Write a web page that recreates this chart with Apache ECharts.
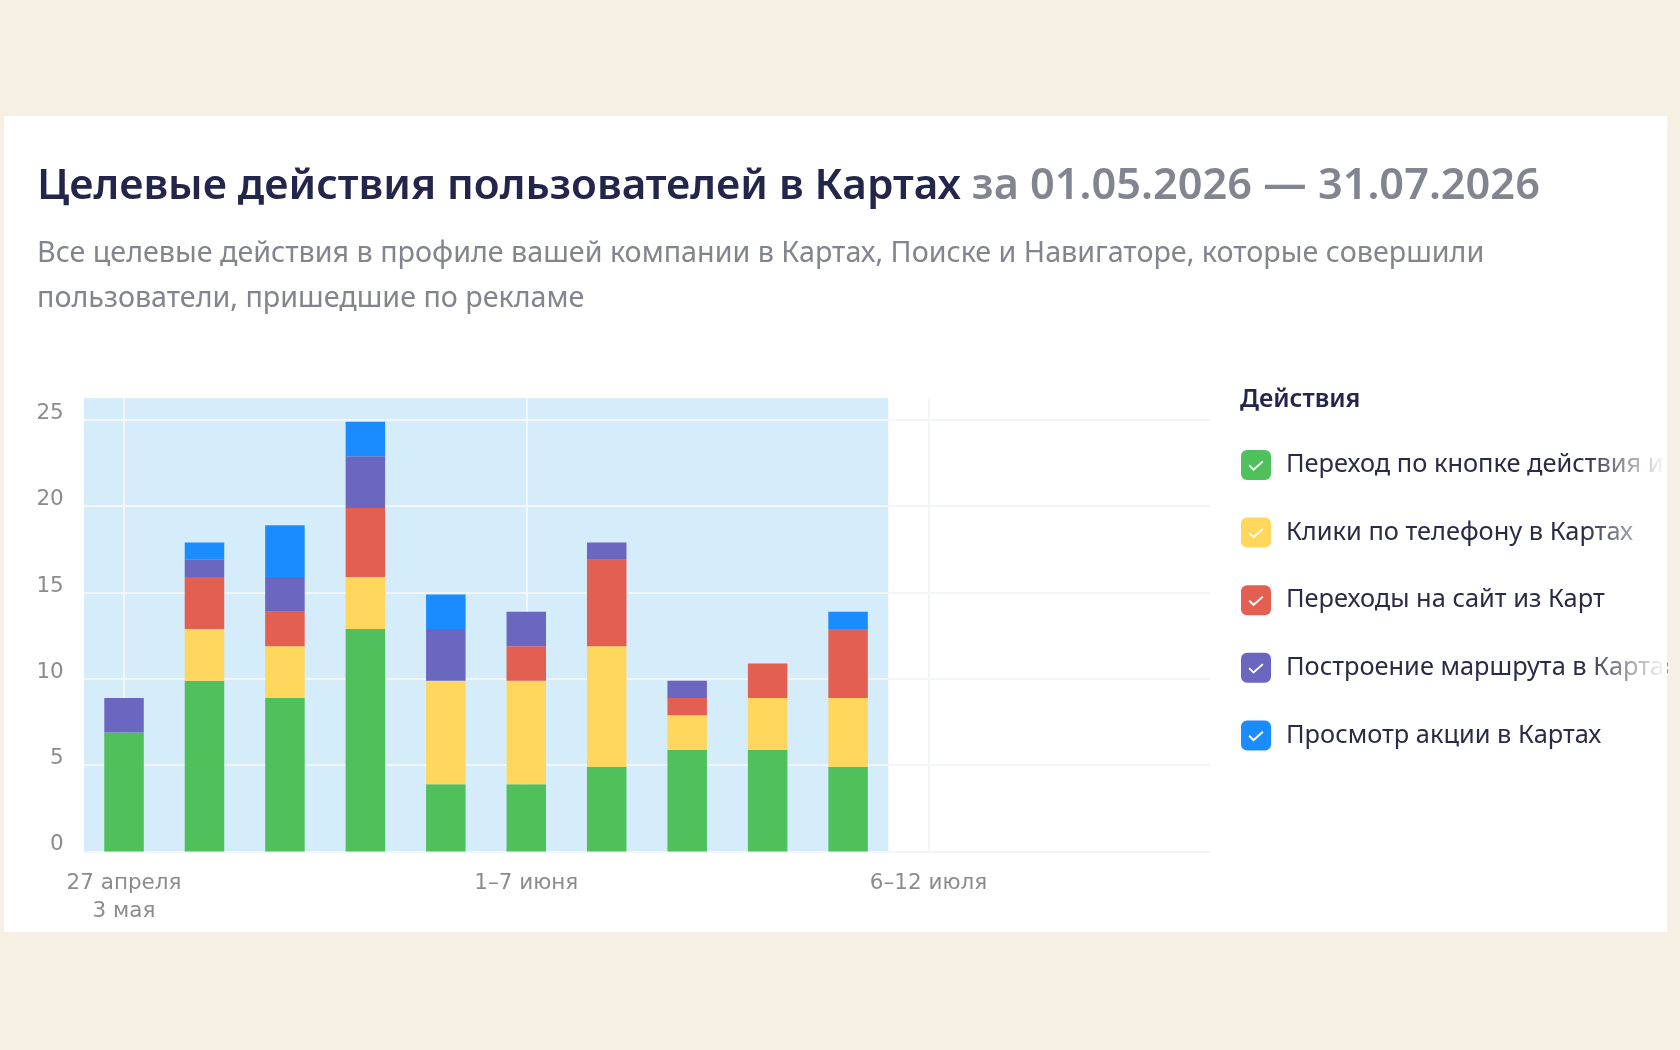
<!DOCTYPE html>
<html>
<head>
<meta charset="utf-8">
<style>html,body{margin:0;padding:0;background:#f6efe3}#c{width:1680px;height:1050px}</style>
<script src="https://cdn.jsdelivr.net/npm/echarts@6/dist/echarts.min.js"></script>
</head>
<body>
<div id="c"></div>
<script>
const categories = ['27 апреля\n3 мая','4–10 мая','11–17 мая','18–24 мая','25–31 мая','1–7 июня','8–14 июня','15–21 июня','22–28 июня','29 июня – 5 июля','6–12 июля','13–19 июля','20–26 июля','27 июля – 2 августа'];
const seriesNames = ['Переход по кнопке действия и','Клики по телефону в Картах','Переходы на сайт из Карт','Построение маршрута в Картах','Просмотр акции в Картах'];
const buttonClicks = [7,10,9,13,4,4,5,6,6,5,null,null,null,null];
const phoneClicks  = [0,3,3,3,6,6,7,2,3,4,null,null,null,null];
const siteVisits   = [0,3,2,4,0,2,5,1,2,4,null,null,null,null];
const routes       = [2,1,2,3,3,2,1,1,0,0,null,null,null,null];
const promoViews   = [0,1,3,2,2,0,0,0,0,1,null,null,null,null];
const seriesValues = [buttonClicks,phoneClicks,siteVisits,routes,promoViews];
const colors = ['#4fc05c','#ffd75c','#e35f51','#6b66c0','#1a8cff'];
const yMax = 26.25;
const weeksTotal = categories.length;
const weeksHighlighted = 10;
const barAxisShift = 0.11;

const checkIcon = 'path://M6 0H24A6 6 0 0 1 30 6V24A6 6 0 0 1 24 30H6A6 6 0 0 1 0 24V6A6 6 0 0 1 6 0ZM7.5 16L12.5 21L22.5 12L21.2 10.7L12.5 18.4L8.8 14.6Z';
const uiFont = '"Noto Sans", sans-serif';
const axisFont = '"DejaVu Sans", sans-serif';

const fade = (y) => ({
  type:'rect', z:20, silent:true,
  shape:{x:1585,y:y,width:82,height:32},
  style:{fill:new echarts.graphic.LinearGradient(0,0,1,0,[
    {offset:0,color:'rgba(255,255,255,0)'},{offset:1,color:'rgba(255,255,255,1)'}])}
});

const chart = echarts.init(document.getElementById('c'), null, {renderer:'canvas'});
chart.setOption({
  animation:false,
  backgroundColor:'#f6efe3',
  graphic:[
    {type:'rect', z:-10, silent:true, shape:{x:4,y:116,width:1663.5,height:816}, style:{fill:'#ffffff'}},
    fade(448), fade(515), fade(650),
    {type:'rect', z:21, silent:true, shape:{x:1667.5,y:116,width:13,height:816}, style:{fill:'#f6efe3'}},
    {type:'text', z:5, silent:true, left:1240, top:387, style:{text:'Действия',fill:'#23264a',font:'600 25px '+uiFont}}
  ],
  title:[
    {left:37, top:165, padding:0, itemGap:0,
     text:'{a|Целевые действия пользователей в Картах}{b|за 01.05.2026 — 31.07.2026}',
     textStyle:{rich:{
       a:{fontFamily:uiFont,fontSize:42.3,fontWeight:600,color:'#23264a'},
       b:{fontFamily:uiFont,fontSize:43.3,fontWeight:600,color:'#82858f',padding:[0,0,0,11]}
     }}},
    {left:37, top:231, padding:0,
     text:'Все целевые действия в профиле вашей компании в Картах, Поиске и Навигаторе, которые совершили\nпользователи, пришедшие по рекламе',
     textStyle:{fontFamily:uiFont,fontSize:28.7,fontWeight:400,color:'#82858f',lineHeight:45}}
  ],
  legend:{
    orient:'vertical', left:1241, top:450, padding:0,
    itemWidth:30, itemHeight:30, itemGap:37.6,
    selectedMode:false, icon:checkIcon,
    data:seriesNames,
    textStyle:{fontFamily:uiFont,fontSize:25.4,color:'#2a2c45',padding:[0,0,0,10]}
  },
  grid:{left:83.8, width:1126.3, top:398.3, height:453.1, containLabel:false},
  xAxis:[
    {type:'category', data:categories,
     axisLine:{show:true,lineStyle:{color:'#f3f6f9',width:2}}, axisTick:{show:false},
     splitLine:{show:true, alignWithLabel:true, interval:(i)=>i%5===0, lineStyle:{color:'#f3f6f9',width:2}},
     axisLabel:{interval:(i)=>i%5===0, fontFamily:axisFont, fontSize:21.5, color:'#8c8c8c', lineHeight:28, margin:18, hideOverlap:false}},
    {type:'value', min:0, max:weeksTotal, show:false}
  ],
  yAxis:[
    {type:'value', min:0, max:yMax, interval:5,
     axisLine:{show:false}, axisTick:{show:false},
     splitLine:{show:true, showMaxLine:false, lineStyle:{color:'#f3f6f9',width:2}},
     axisLabel:{showMaxLabel:false, fontFamily:axisFont, fontSize:21.5, color:'#8c8c8c', margin:20, verticalAlign:'bottom', lineHeight:13}},
    {type:'value', min:barAxisShift, max:yMax+barAxisShift, show:false}
  ],
  series:[
    {type:'line', name:'period', xAxisIndex:1, yAxisIndex:0, z:-1, silent:true, data:[],
     markArea:{silent:true, z:-1, itemStyle:{color:'#d5edfb'},
       data:[[{xAxis:0,yAxis:0},{xAxis:weeksHighlighted,yAxis:yMax}]]}},
    ...seriesNames.map((name,i)=>({
      type:'bar', name, stack:'total', z:2, barWidth:39.5, xAxisIndex:0, yAxisIndex:1,
      itemStyle:{color:colors[i]}, data:seriesValues[i]
    }))
  ]
});
</script>
</body>
</html>
